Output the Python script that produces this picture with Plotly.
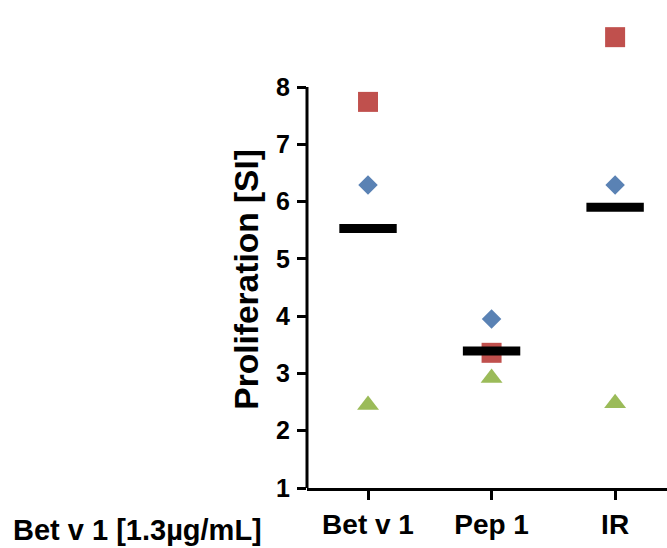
import plotly.graph_objects as go

categories = ["Bet v 1", "Pep 1", "IR"]
square_vals = [7.74, 3.36, 8.87]
diamond_vals = [6.29, 3.95, 6.29]
triangle_vals = [2.45, 2.92, 2.48]
mean_vals = [5.53, 3.39, 5.90]
y_ticks = [1, 2, 3, 4, 5, 6, 7, 8]

xpos = list(range(len(categories)))
FONT = "Liberation Sans, Arial, sans-serif"

# plot area: top 20px, bottom at 488px; value 8 sits at 87px
top_px, bottom_px, eight_px = 20, 488, 87
y_top = 1 + 7 * (bottom_px - top_px) / (bottom_px - eight_px)

fig = go.Figure()
fig.add_trace(go.Scatter(x=xpos, y=square_vals, mode="markers",
                         marker=dict(symbol="square", size=20, color="#c0504d")))
fig.add_trace(go.Scatter(x=xpos, y=diamond_vals, mode="markers",
                         marker=dict(symbol="diamond", size=15, color="#5a82b4")))
fig.add_trace(go.Scatter(x=xpos, y=triangle_vals, mode="markers",
                         marker=dict(symbol="triangle-up", size=19, color="#9bbb59")))
fig.add_trace(go.Scatter(x=xpos, y=mean_vals, mode="markers",
                         marker=dict(symbol="line-ew", size=41,
                                     line=dict(width=9, color="black"))))

fig.add_shape(type="line", xref="paper", yref="y", x0=0, x1=0,
              y0=min(y_ticks), y1=max(y_ticks), line=dict(color="black", width=3))

fig.update_layout(
    width=667, height=548,
    margin=dict(l=307, r=0, t=top_px, b=548 - bottom_px),
    paper_bgcolor="white", plot_bgcolor="white",
    showlegend=False,
    font=dict(family=FONT, color="black"),
    xaxis=dict(range=[-0.494, 2.42], tickmode="array", tickvals=xpos, ticktext=categories,
               showgrid=False, zeroline=False, showline=True, linecolor="black", linewidth=3,
               ticks="outside", ticklen=9, tickwidth=3, tickcolor="black",
               tickfont=dict(size=28, family=FONT, weight="bold"), ticklabelstandoff=0),
    yaxis=dict(range=[1, y_top], tickmode="array", tickvals=y_ticks,
               showgrid=False, zeroline=False, showline=False,
               ticks="outside", ticklen=9, tickwidth=3, tickcolor="black",
               tickfont=dict(size=25, family=FONT, weight="bold"), ticklabelstandoff=2),
    annotations=[
        dict(text="<b>Proliferation [SI]</b>", textangle=-90, xref="paper", yref="paper",
             x=-0.167, y=0.447, xanchor="center", yanchor="middle", showarrow=False,
             font=dict(size=33.5, family=FONT)),
        dict(text="<b>Bet v 1 [1.3µg/mL]</b>", xref="paper", yref="paper",
             x=-0.822, y=-0.09, xanchor="left", yanchor="middle", showarrow=False,
             font=dict(size=29, family=FONT)),
    ],
)

fig.write_html("out.html")
